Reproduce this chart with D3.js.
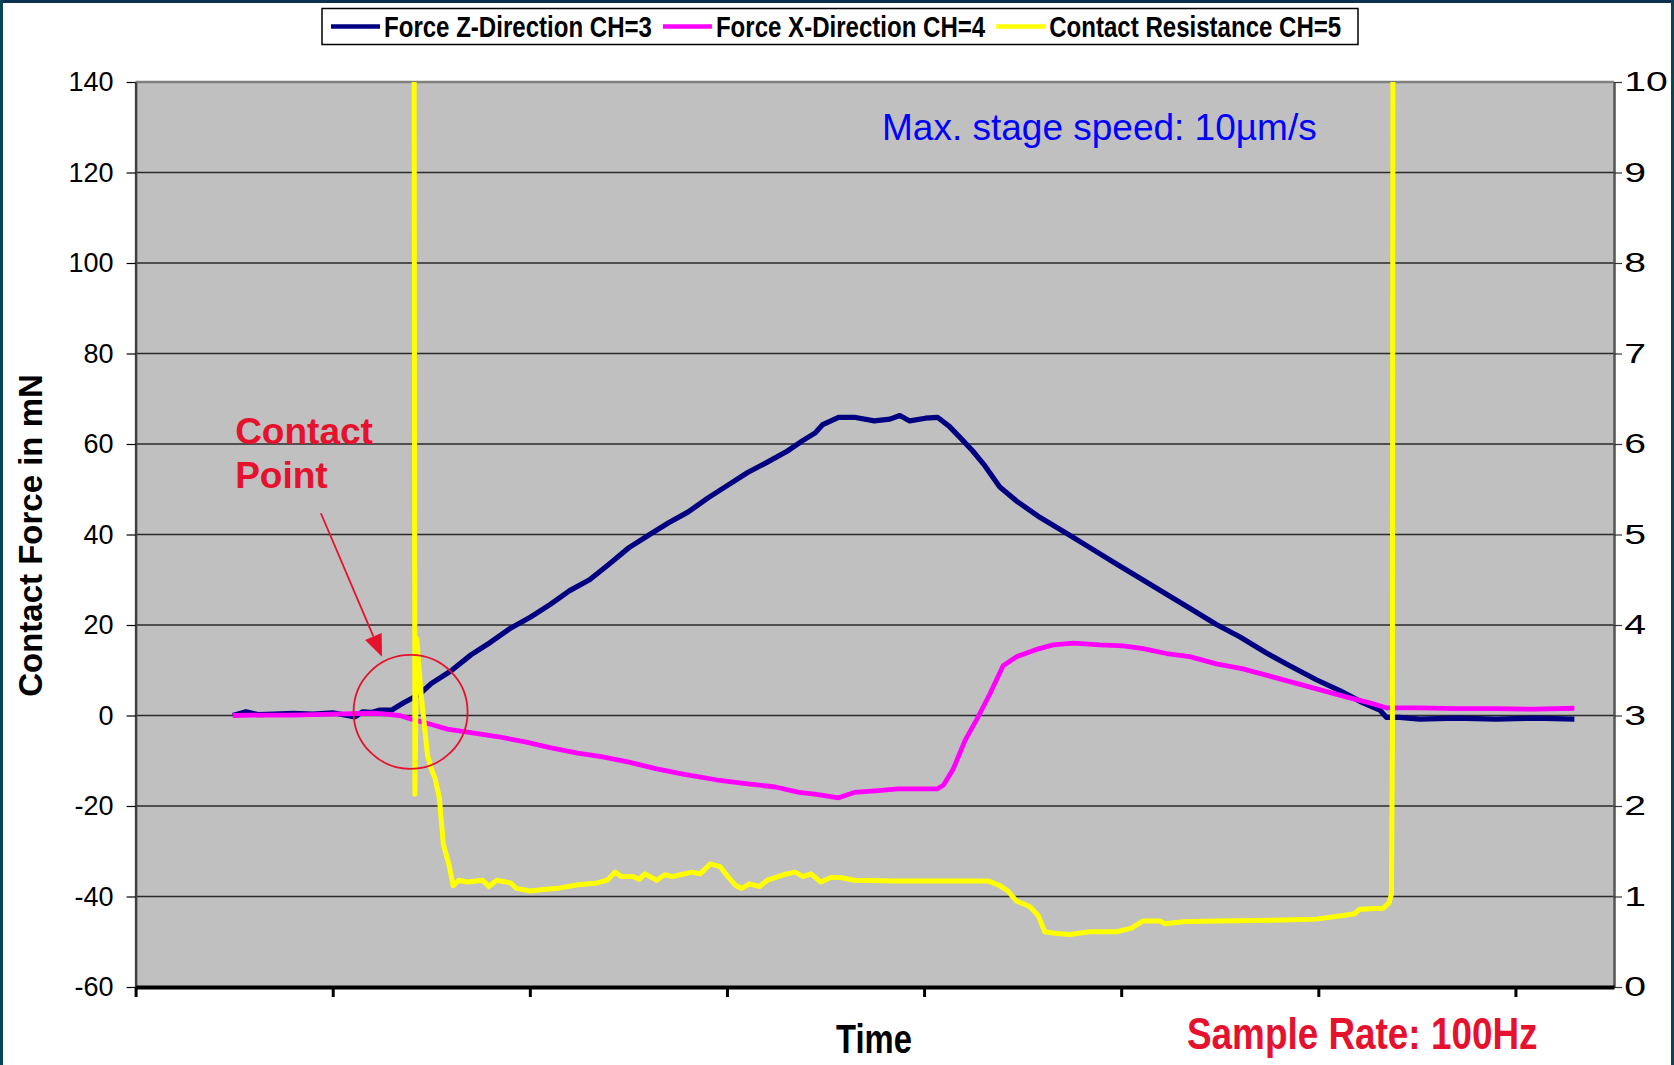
<!DOCTYPE html>
<html lang="en">
<head>
<meta charset="utf-8">
<title>Contact force and contact resistance</title>
<script src="https://cdn.jsdelivr.net/npm/d3@7"></script>
<style>
  body { margin: 0; background: #fff; }
  svg { display: block; }
  text { font-family: "Liberation Sans", Arial, sans-serif; }
  .narrow { font-weight: bold; }
</style>
</head>
<body>
<div id="chart"></div>
<script>
// Series: [sample index, value]
var forceZ = [
  [493, 0], [560, 0.8], [620, 0.2], [700, 0.3], [800, 0.5], [900, 0.3], [1000, 0.6], [1113, -0.3],
  [1150, 0.8], [1200, 0.7], [1240, 1.2], [1300, 1.2], [1360, 2.8], [1440, 4.7], [1501, 7.1],
  [1601, 9.9], [1701, 13.4], [1801, 16.2], [1902, 19.3], [2002, 21.7], [2102, 24.5], [2202, 27.6],
  [2303, 30], [2403, 33.5], [2503, 37.1], [2604, 39.9], [2704, 42.6], [2804, 45], [2904, 48.1],
  [3005, 50.9], [3105, 53.7], [3205, 56], [3305, 58.4], [3386, 60.8], [3446, 62.4], [3486, 64.3],
  [3566, 65.9], [3646, 65.9], [3747, 65.1], [3827, 65.5], [3877, 66.3], [3927, 65.1], [4007, 65.7],
  [4068, 65.9], [4128, 63.9], [4188, 61.2], [4248, 58.4], [4308, 55.2], [4384, 50.5], [4469, 47.4],
  [4587, 43.8], [4722, 40.3], [4841, 37.1], [4976, 33.5], [5094, 30.4], [5230, 26.8], [5348, 23.7],
  [5483, 20.1], [5601, 17.4], [5737, 13.8], [5855, 11], [5990, 7.9], [6109, 5.5], [6227, 2.8],
  [6312, 1.2], [6345, -0.4], [6413, -0.4], [6514, -0.8], [6700, -0.6], [6900, -0.8], [7100, -0.6],
  [7299, -0.8]
];
var forceX = [
  [493, 0], [600, 0.1], [800, 0.1], [1000, 0.3], [1200, 0.5], [1240, 0.4], [1340, 0], [1400, -0.8],
  [1501, -2], [1581, -3], [1701, -3.8], [1842, -4.7], [1982, -5.9], [2102, -7.1], [2243, -8.3],
  [2363, -9.1], [2503, -10.3], [2644, -11.8], [2784, -13], [2945, -14.2], [3085, -15], [3245, -15.8],
  [3366, -17], [3446, -17.4], [3566, -18.2], [3646, -17], [3767, -16.6], [3867, -16.2], [3987, -16.2],
  [4068, -16.2], [4098, -15.4], [4148, -11.8], [4208, -5.5], [4268, -0.8], [4333, 4.7], [4401, 11],
  [4469, 13], [4570, 14.6], [4655, 15.6], [4756, 16], [4891, 15.6], [5010, 15.4], [5111, 14.8],
  [5230, 13.7], [5348, 13], [5483, 11.4], [5618, 10.3], [5754, 8.7], [5889, 7.1], [6024, 5.5],
  [6159, 3.9], [6261, 2.8], [6345, 1.7], [6430, 1.7], [6514, 1.7], [6700, 1.5], [6900, 1.5],
  [7100, 1.4], [7299, 1.6]
];
// contact resistance is off scale (open contact) before and after touching
var resistance = [
  [493, 12], [1412, 12], [1417, 2.13], [1426, 3.85], [1450, 3.2], [1481, 2.56], [1502, 2.4],
  [1520, 2.3], [1541, 2.09], [1561, 1.58], [1591, 1.34], [1611, 1.12], [1641, 1.18], [1681, 1.16],
  [1761, 1.18], [1792, 1.11], [1832, 1.18], [1902, 1.15], [1932, 1.09], [2002, 1.06], [2082, 1.08],
  [2142, 1.09], [2243, 1.13], [2343, 1.15], [2393, 1.18], [2433, 1.27], [2463, 1.22], [2523, 1.22],
  [2554, 1.19], [2584, 1.25], [2644, 1.18], [2684, 1.24], [2724, 1.22], [2764, 1.24], [2824, 1.27],
  [2864, 1.25], [2915, 1.36], [2965, 1.33], [3005, 1.22], [3045, 1.12], [3075, 1.09], [3115, 1.14],
  [3165, 1.11], [3205, 1.18], [3286, 1.24], [3346, 1.27], [3386, 1.22], [3426, 1.25], [3476, 1.16],
  [3526, 1.21], [3576, 1.21], [3646, 1.18], [3847, 1.17], [4328, 1.17], [4384, 1.12], [4426, 1.06],
  [4469, 0.95], [4536, 0.89], [4579, 0.79], [4612, 0.61], [4672, 0.59], [4739, 0.58], [4841, 0.61],
  [4976, 0.61], [5052, 0.65], [5111, 0.73], [5196, 0.73], [5221, 0.7], [5314, 0.72], [5483, 0.73],
  [5821, 0.74], [5990, 0.75], [6126, 0.79], [6185, 0.81], [6210, 0.86], [6328, 0.87], [6359, 0.93],
  [6371, 1.03], [6376, 2.76], [6379, 12], [7299, 12]
];
var seriesNames = ["Force Z-Direction CH=3", "Force X-Direction CH=4", "Contact Resistance CH=5"];
var seriesColours = ["#000080", "#ff00ff", "#ffff00"];
var leftTicks = [-60, -40, -20, 0, 20, 40, 60, 80, 100, 120, 140];
var rightTicks = [0, 1, 2, 3, 4, 5, 6, 7, 8, 9, 10];
var timeTicks = [0, 1000, 2000, 3000, 4000, 5000, 6000, 7000];

var W = 1674, H = 1065;
var plot = { left: 135.6, right: 1614, top: 82, bottom: 987 };
var narrow = 0.82; // condensed look of the bold captions
var legendNarrow = 0.83;

var svg = d3.select("#chart").append("svg").attr("width", W).attr("height", H);

// Frame
svg.append("rect").attr("width", W).attr("height", H).attr("fill", "#fff");
svg.append("rect").attr("width", W).attr("height", 3).attr("fill", "#0c3150");
svg.append("rect").attr("width", 3).attr("height", H).attr("fill", "#0a4658");
svg.append("rect").attr("x", W - 3).attr("width", 3).attr("height", H).attr("fill", "#0a4658");

// Scales
var x = d3.scaleLinear().domain([0, 7500]).range([plot.left, plot.right]);
var yL = d3.scaleLinear().domain([-60, 140]).range([plot.bottom, plot.top]);
var yR = d3.scaleLinear().domain([0, 10]).range([plot.bottom, plot.top]);

// Plot area
svg.append("rect")
  .attr("x", plot.left).attr("y", plot.top)
  .attr("width", plot.right - plot.left).attr("height", plot.bottom - plot.top)
  .attr("fill", "#c0c0c0");

svg.append("clipPath").attr("id", "plot-clip").append("rect")
  .attr("x", plot.left).attr("y", plot.top)
  .attr("width", plot.right - plot.left).attr("height", plot.bottom - plot.top);

// Gridlines
svg.append("g").selectAll("line")
  .data(leftTicks.filter(function(d) { return d > -60 && d < 140; }))
  .join("line")
  .attr("x1", plot.left).attr("x2", plot.right)
  .attr("y1", function(d) { return yL(d); }).attr("y2", function(d) { return yL(d); })
  .attr("stroke", "#2a2a2a").attr("stroke-width", 1.3);

// Top border
svg.append("line").attr("x1", plot.left).attr("x2", plot.right).attr("y1", plot.top).attr("y2", plot.top)
  .attr("stroke", "#808080").attr("stroke-width", 2.5);

// Series
var lines = svg.append("g").attr("clip-path", "url(#plot-clip)");
var lineL = d3.line().x(function(d) { return x(d[0]); }).y(function(d) { return yL(d[1]); });
var lineR = d3.line().x(function(d) { return x(d[0]); }).y(function(d) { return yR(d[1]); });
lines.append("path").datum(forceZ).attr("d", lineL)
  .attr("fill", "none").attr("stroke", seriesColours[0]).attr("stroke-width", 5.2).attr("stroke-linejoin", "round");
lines.append("path").datum(forceX).attr("d", lineL)
  .attr("fill", "none").attr("stroke", seriesColours[1]).attr("stroke-width", 4.8).attr("stroke-linejoin", "round");
lines.append("path").datum(resistance).attr("d", lineR)
  .attr("fill", "none").attr("stroke", seriesColours[2]).attr("stroke-width", 5).attr("stroke-linejoin", "round");

// Left axis
var leftAxis = svg.append("g").attr("transform", "translate(" + plot.left + ",0)")
  .call(d3.axisLeft(yL).tickValues(leftTicks).tickSize(9).tickSizeOuter(0).tickPadding(13)
    .tickFormat(function(d) { return String(d); }));
leftAxis.select(".domain").attr("stroke", "#404040").attr("stroke-width", 2.5);
leftAxis.selectAll(".tick line").attr("stroke", "#000").attr("stroke-width", 1.2);
leftAxis.selectAll(".tick text").attr("font-size", 27).attr("fill", "#000")
  .style("font-family", '"Liberation Sans", Arial, sans-serif');

// Right axis
var rightAxis = svg.append("g").attr("transform", "translate(" + plot.right + ",0)")
  .call(d3.axisRight(yR).tickValues(rightTicks).tickSize(8).tickSizeOuter(0)
    .tickFormat(function(d) { return String(d); }));
rightAxis.select(".domain").attr("stroke", "#555").attr("stroke-width", 2.5);
rightAxis.selectAll(".tick line").attr("stroke", "#333").attr("stroke-width", 1.2);
rightAxis.selectAll(".tick text").attr("font-size", 27).attr("fill", "#000")
  .attr("x", 7).attr("transform", "scale(1.45,1)")
  .style("font-family", '"Liberation Sans", Arial, sans-serif');

// Bottom axis (time, no labels)
var bottomAxis = svg.append("g").attr("transform", "translate(0," + plot.bottom + ")")
  .call(d3.axisBottom(x).tickValues(timeTicks).tickFormat("").tickSize(10).tickSizeOuter(0));
bottomAxis.select(".domain").attr("stroke", "#000").attr("stroke-width", 4);
bottomAxis.selectAll(".tick line").attr("stroke", "#000").attr("stroke-width", 3);

// Axis titles
svg.append("text")
  .attr("transform", "translate(30," + ((plot.top + plot.bottom) / 2 + 1) + ") rotate(-90)")
  .attr("text-anchor", "middle").attr("dominant-baseline", "central")
  .attr("font-size", 33).attr("font-weight", "bold").attr("fill", "#000")
  .text("Contact Force in mN");

svg.append("text").attr("class", "narrow")
  .attr("transform", "translate(874,1053) scale(" + narrow + ",1)")
  .attr("text-anchor", "middle")
  .attr("font-size", 40).attr("fill", "#000")
  .text("Time");

svg.append("text").attr("class", "narrow")
  .attr("transform", "translate(1187,1049) scale(" + narrow + ",1)")
  .attr("font-size", 45).attr("fill", "#e5112d")
  .text("Sample Rate: 100Hz");

svg.append("text")
  .attr("x", 882).attr("y", 140)
  .attr("font-size", 37).attr("fill", "#0000ff")
  .text("Max. stage speed: 10\u00b5m/s");

// Contact point annotation
var red = "#e5112d";
var cp = svg.append("g");
cp.append("text").attr("x", x(505)).attr("y", yL(60)).attr("font-size", 37).attr("font-weight", "bold")
  .attr("fill", red).text("Contact");
cp.append("text").attr("x", x(505)).attr("y", yL(50.2)).attr("font-size", 37).attr("font-weight", "bold")
  .attr("fill", red).text("Point");
cp.append("circle").attr("cx", x(1395)).attr("cy", yL(0.8)).attr("r", 57)
  .attr("fill", "none").attr("stroke", red).attr("stroke-width", 1.8);

var a0 = [x(940), yL(44.7)], a1 = [x(1250), yL(13)];
var ang = Math.atan2(a1[1] - a0[1], a1[0] - a0[0]);
var headLen = 22, headW = 9;
var base = [a1[0] - headLen * Math.cos(ang), a1[1] - headLen * Math.sin(ang)];
cp.append("line").attr("x1", a0[0]).attr("y1", a0[1]).attr("x2", base[0]).attr("y2", base[1])
  .attr("stroke", red).attr("stroke-width", 1.8);
cp.append("path")
  .attr("d", "M" + a1[0] + "," + a1[1] +
    "L" + (base[0] + headW * Math.sin(ang)) + "," + (base[1] - headW * Math.cos(ang)) +
    "L" + (base[0] - headW * Math.sin(ang)) + "," + (base[1] + headW * Math.cos(ang)) + "Z")
  .attr("fill", red);

// Legend
var legend = svg.append("g");
legend.append("rect").attr("x", 322).attr("y", 8.5).attr("width", 1036).attr("height", 36)
  .attr("fill", "#fff").attr("stroke", "#000").attr("stroke-width", 1.5);
var lx = 331;
seriesNames.forEach(function(name, i) {
  legend.append("line").attr("x1", lx).attr("x2", lx + 49).attr("y1", 26.5).attr("y2", 26.5)
    .attr("stroke", seriesColours[i]).attr("stroke-width", 4.5);
  var t = legend.append("text").attr("class", "narrow")
    .attr("transform", "translate(" + (lx + 53) + ",36.5) scale(" + legendNarrow + ",1)")
    .attr("font-size", 29).attr("fill", "#000")
    .text(name);
  lx = lx + 53 + t.node().getComputedTextLength() * legendNarrow + 11;
});
</script>
</body>
</html>
